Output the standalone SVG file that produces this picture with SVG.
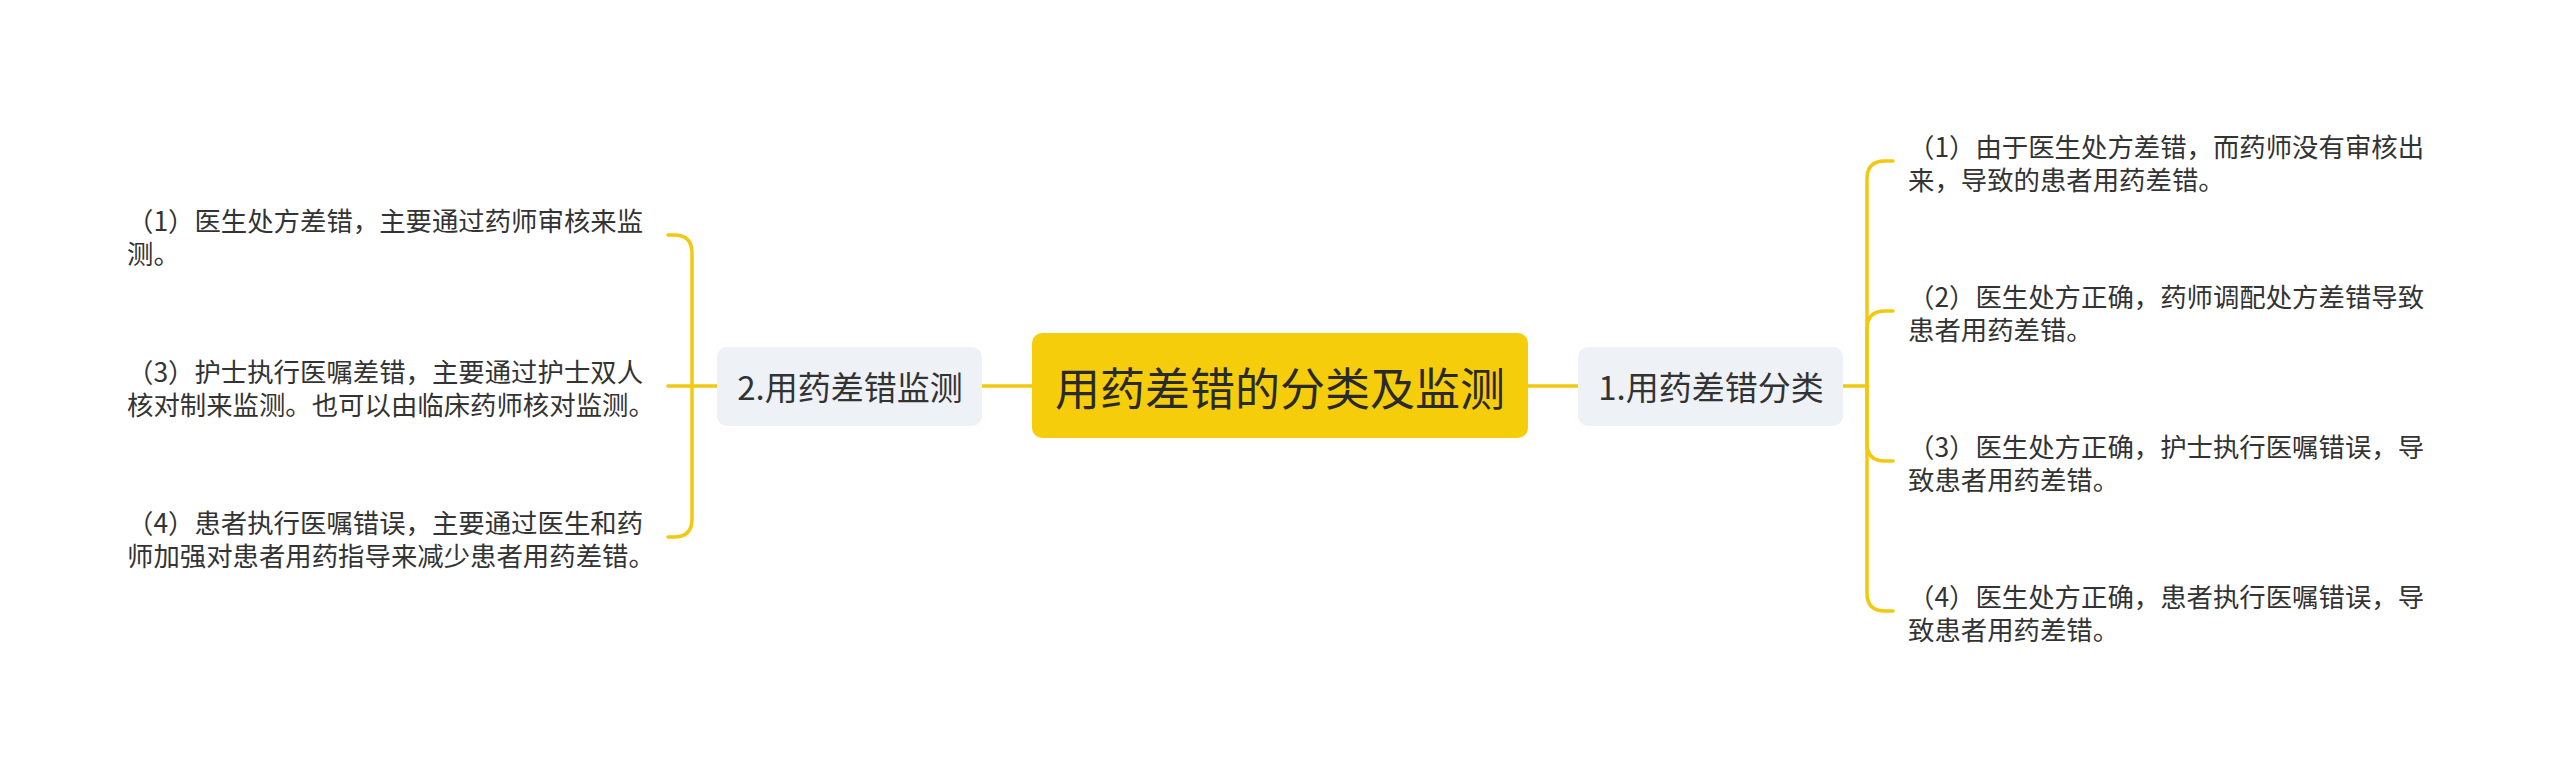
<svg xmlns="http://www.w3.org/2000/svg" width="2560" height="773" viewBox="0 0 2560 773">
<style>
.line{fill:none;stroke:#F2C811;stroke-width:3.5;stroke-linecap:round;stroke-linejoin:round}
.t{font-family:"Noto Sans CJK SC","Noto Sans",sans-serif;fill:#333333;dominant-baseline:central}
.leaf{font-size:26.4px}
.sub{font-size:33px;text-anchor:middle}
.main{font-size:45px;text-anchor:middle;fill:#2a2a2a}
.subbox{fill:#EEF1F5}
</style>
<rect width="2560" height="773" fill="#ffffff"/>
<g id="connectors">
  <path class="line" d="M1528 386H1578"/>
  <path class="line" d="M982 386H1032"/>
  <path class="line" d="M1843 386H1867"/>
  <path class="line" d="M1867 386V179Q1867 161 1885 161H1893"/>
  <path class="line" d="M1867 386V329Q1867 311 1885 311H1893"/>
  <path class="line" d="M1867 386V443Q1867 461 1885 461H1893"/>
  <path class="line" d="M1867 386V593Q1867 611 1885 611H1893"/>
  <path class="line" d="M717 386H668"/>
  <path class="line" d="M692 386V253Q692 235 674 235H668"/>
  <path class="line" d="M692 386V519Q692 537 674 537H668"/>
</g>
<g id="root">
  <rect x="1032" y="333" width="496" height="105" rx="10" fill="#F5CD0A"/>
  <text class="t main" x="1280" y="386">用药差错的分类及监测</text>
</g>
<g id="n1">
  <rect class="subbox" x="1578" y="347" width="265" height="79" rx="10"/>
  <text class="t sub" x="1711" y="386">1.用药差错分类</text>
</g>
<g id="n2">
  <rect class="subbox" x="717" y="347" width="265" height="79" rx="10"/>
  <text class="t sub" x="850" y="386">2.用药差错监测</text>
</g>
<g id="n1-1">
  <text class="t leaf"><tspan x="1908" y="144.5">（1）由于医生处方差错，而药师没有审核出</tspan><tspan x="1908" y="177.5">来，导致的患者用药差错。</tspan></text>
</g>
<g id="n1-2">
  <text class="t leaf"><tspan x="1908" y="294.5">（2）医生处方正确，药师调配处方差错导致</tspan><tspan x="1908" y="327.5">患者用药差错。</tspan></text>
</g>
<g id="n1-3">
  <text class="t leaf"><tspan x="1908" y="444.5">（3）医生处方正确，护士执行医嘱错误，导</tspan><tspan x="1908" y="477.5">致患者用药差错。</tspan></text>
</g>
<g id="n1-4">
  <text class="t leaf"><tspan x="1908" y="594.5">（4）医生处方正确，患者执行医嘱错误，导</tspan><tspan x="1908" y="627.5">致患者用药差错。</tspan></text>
</g>
<g id="n2-1">
  <text class="t leaf"><tspan x="127" y="218.5">（1）医生处方差错，主要通过药师审核来监</tspan><tspan x="127" y="251.5">测。</tspan></text>
</g>
<g id="n2-3">
  <text class="t leaf"><tspan x="127" y="369.5">（3）护士执行医嘱差错，主要通过护士双人</tspan><tspan x="127" y="402.5">核对制来监测。也可以由临床药师核对监测。</tspan></text>
</g>
<g id="n2-4">
  <text class="t leaf"><tspan x="127" y="520.5">（4）患者执行医嘱错误，主要通过医生和药</tspan><tspan x="127" y="553.5">师加强对患者用药指导来减少患者用药差错。</tspan></text>
</g>
</svg>
